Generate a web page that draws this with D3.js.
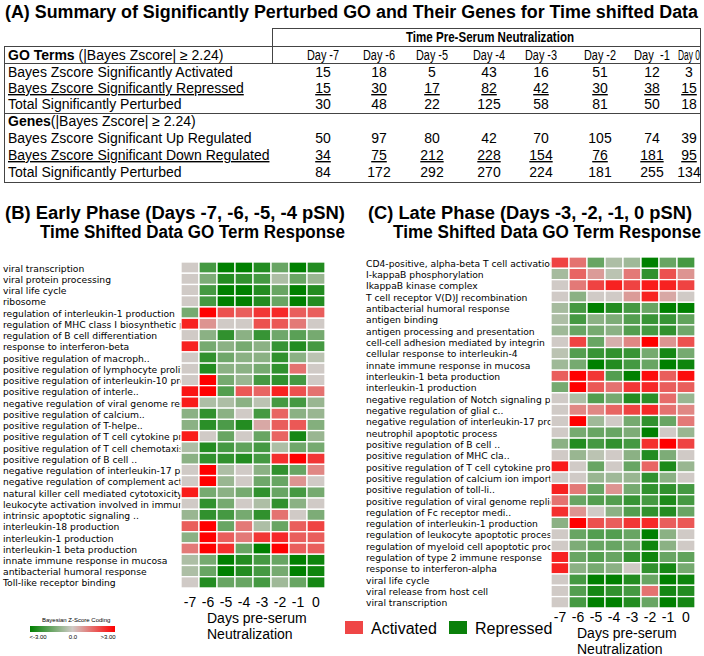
<!DOCTYPE html>
<html>
<head>
<meta charset="utf-8">
<script src="https://cdn.jsdelivr.net/npm/d3@7"></script>
<style>
body { margin: 0; background: #fff; }
text { fill: #000; }
.tbl { font-family: "Liberation Sans", Arial, sans-serif; font-size: 14px; }
.ttl { font-family: "Liberation Sans", Arial, sans-serif; font-weight: bold; }
.term { font-family: "DejaVu Sans", Verdana, sans-serif; font-size: 9.2px; }
.ax { font-family: "Liberation Sans", Arial, sans-serif; }
</style>
</head>
<body>
<div id="chart"></div>
<script>
// ---- table (A) ----
var days = ["Day -7", "Day -6", "Day -5", "Day -4", "Day -3", "Day -2", "Day  -1", "Day 0"];
var goActivated = [15, 18, 5, 43, 16, 51, 12, 3];
var goRepressed = [15, 30, 17, 82, 42, 30, 38, 15];
var goTotal = [30, 48, 22, 125, 58, 81, 50, 18];
var geneUp = [50, 97, 80, 42, 70, 105, 74, 39];
var geneDown = [34, 75, 212, 228, 154, 76, 181, 95];
var geneTotal = [84, 172, 292, 270, 224, 181, 255, 134];

// ---- heatmaps (B), (C) ----
var dayTicks = ["-7", "-6", "-5", "-4", "-3", "-2", "-1", "0"];

var earlyTerms = [
  "viral transcription", "viral protein processing", "viral life cycle", "ribosome",
  "regulation of interleukin-1 production", "regulation of MHC class I biosynthetic process",
  "regulation of B cell differentiation", "response to interferon-beta",
  "positive regulation of macroph..", "positive regulation of lymphocyte proliferation",
  "positive regulation of interleukin-10 production", "positive regulation of interle..",
  "negative regulation of viral genome replication", "positive regulation of calcium..",
  "positive regulation of T-helpe..", "positive regulation of T cell cytokine production",
  "positive regulation of T cell chemotaxis", "positive regulation of B cell ..",
  "negative regulation of interleukin-17 production", "negative regulation of complement activation",
  "natural killer cell mediated cytotoxicity", "leukocyte activation involved in immune response",
  "intrinsic apoptotic signaling ..", "interleukin-18 production", "interleukin-1 production",
  "interleukin-1 beta production", "innate immune response in mucosa",
  "antibacterial humoral response", "Toll-like receptor binding"
];
var earlyZ = [
  [0, -2, -3, -3, -2.5, -1.5, -3, -2.5],
  [0, -1.2, -2.5, -2.3, -2, -0.5, -1.5, -0.8],
  [0, -2, -3, -3, -2.5, -1.5, -3, -2.5],
  [0, -2, -3, -3, -2.5, -1.5, -3, -2.5],
  [-1.3, 3, 1.8, 1.6, 2.2, 2.4, 1.6, 1.6],
  [2.5, 0.8, 0, 0, 1.8, 1.7, 1.2, 0],
  [0, -1, -2.3, -1, -2.2, -1.4, -1.7, -1.3],
  [2.5, -1.3, -1, -1.3, -1, -2.2, -2.5, -2],
  [0, -2.3, -1.4, -1, -1, -2.3, -1, -0.3],
  [0, -2.5, -1, -1, -1.3, -2.3, 1.3, 0],
  [0, 3, -1.3, -0.8, -2, -2.3, -2, 0],
  [2.7, 3, -1.8, 1.7, 1.5, 2.5, 1.8, 1.3],
  [2.6, -0.5, -0.5, -1, -0.3, -2, -2, -0.8],
  [-1, -2.3, -1, 0, -2, 1.5, -1, -0.8],
  [-1, -2.4, -1.9, -2.5, 0.5, 1.6, 1.7, -1.1],
  [2.6, 0, -1.5, 0, -1.5, 1.5, -2.7, -0.8],
  [-0.5, -2.5, -2, -1.6, -2, -0.5, -1.4, -1.3],
  [-1, -2.3, -2.3, -2.5, -2, 2.3, 3, 2.2],
  [0, 3, -0.5, 0, -1, -2.3, -1.5, 1],
  [0, 3, -0.8, 0, -1.4, -1.5, 0.8, 0],
  [2.6, -1.3, -1, -1.3, -2.3, -1.5, -2, -1.3],
  [0, -2.3, -1.3, 0, -0.5, -2.3, -1, 0],
  [-0.8, -2.3, -2, -1.3, -2.3, 1.3, 0, -1.2],
  [1.6, 3, -1.5, 1.2, -0.5, -1.5, 1.6, 2],
  [-1, 3, 1.6, 1.2, 2.2, 2.4, 1.6, 1.6],
  [1.2, 3, 2.3, -1.5, -3, 3, 1.6, 1.6],
  [-0.5, -1.3, -3, -2.5, -2, -1.5, -3, -2.8],
  [-0.5, -1.5, -3, -2.5, -2, -1.3, -3, -2.8],
  [0, -2.5, -1.5, -1.5, -2, -0.7, -1.5, -2.7]
];

var lateTerms = [
  "CD4-positive, alpha-beta T cell activation", "I-kappaB phosphorylation", "IkappaB kinase complex",
  "T cell receptor V(D)J recombination", "antibacterial humoral response", "antigen binding",
  "antigen processing and presentation", "cell-cell adhesion mediated by integrin",
  "cellular response to interleukin-4", "innate immune response in mucosa",
  "interleukin-1 beta production", "interleukin-1 production",
  "negative regulation of Notch signaling pathway", "negative regulation of glial c..",
  "negative regulation of interleukin-17 production", "neutrophil apoptotic process",
  "positive regulation of B cell ..", "positive regulation of MHC cla..",
  "positive regulation of T cell cytokine production", "positive regulation of calcium ion import",
  "positive regulation of toll-li..", "positive regulation of viral genome replication",
  "regulation of Fc receptor medi..", "regulation of interleukin-1 production",
  "regulation of leukocyte apoptotic process", "regulation of myeloid cell apoptotic process",
  "regulation of type 2 immune response", "response to interferon-alpha", "viral life cycle",
  "viral release from host cell", "viral transcription"
];
var lateZ = [
  [2, 1.3, -1.5, -0.5, -0.7, -3, -1.5, -2],
  [-0.6, 1.5, 0.7, -0.3, 1.2, -2.3, 1.8, 0.8],
  [0, 1.2, 2, 2.5, 2, 2.6, 2.5, 2],
  [0, -1, 0, 0, 0.7, 2.5, 0.5, 0],
  [-0.6, -2, -3, -2.5, -2, -1.5, -3, -3],
  [-0.5, -2, -1, -1.2, -1.8, -2.2, -2.2, -1.6],
  [-0.7, -1.5, -1.3, -1, -1.8, -2, -2.3, -1.4],
  [0, 2, -1.5, 0.4, 1, 3, 0.8, 1.8],
  [-0.3, -1.8, -2.2, -2.3, -2.2, -1.3, -2.7, -1.3],
  [-0.7, -1.3, -3, -2.5, -2, -1.5, -3, -2.8],
  [1.6, 3, 2.2, -1.8, -3, 2.8, 1.6, 2.8],
  [-1.3, 3, 1.7, 1.3, 2.2, 2.4, 1.6, 1.6],
  [0, -0.5, -1.8, -1.3, -2.5, -2.4, 1.4, -0.8],
  [0, 1, 1, 1.5, 2, 2.4, 1.3, 1],
  [0, 3, -0.7, 0, -1.3, -2.3, -1.5, 1.2],
  [0, -1.3, -1.5, -1.5, -1.2, -3, 0, -0.8],
  [-1, -2.5, -2, -2.3, -2, 2.3, 3, 2],
  [0, -0.8, -0.3, 0, -1, -2.5, -1.2, 0],
  [2.6, 0, -1.5, 0, -1.5, 1.5, -2.6, -0.8],
  [0, 0, -0.8, -0.7, -0.8, -2.3, -1, 0],
  [2.5, 1.2, -1.5, 0.8, -1.3, -2.3, -2.3, -2],
  [1.3, -1.5, -1.8, -1.8, -2.2, -2, -2.6, -2],
  [2.3, 0.8, 0, -1, -1.8, -2.3, -2.5, -1.5],
  [-1, 3, 1.8, 1.6, 2.2, 2.4, 1.6, 1.7],
  [0, -1.5, -1.8, -1.8, -1.5, -3, -1, 0],
  [0, -1.2, -1.5, -1.5, -1.3, -2.8, -1, 0],
  [2.5, -1.5, -1.8, -1.5, -2.3, -2.8, -1.5, -1.6],
  [2.5, -1, -1.3, -1, 0, -2.3, -2.7, -1.3],
  [0, -2, -3, -3, -2.5, -1.5, -3, -2.8],
  [0, -1.8, -2.7, -2.3, -2, 1.3, -2.7, -2.5],
  [0, -2, -3, -3, -2.5, -1.5, -3, -2.7]
];

var W = 704, H = 656;
var svg = d3.select("#chart").append("svg").attr("width", W).attr("height", H);

var color = d3.scaleLinear().domain([-3, 0, 3]).range(["#008000", "#d0cac6", "#ff0000"]).clamp(true);

// ---------- (A) table ----------
svg.append("text").attr("class", "ttl").attr("x", 5).attr("y", 18)
  .style("font-size", "18px").attr("textLength", 693).attr("lengthAdjust", "spacingAndGlyphs")
  .text("(A) Summary of Significantly Perturbed GO and Their Genes for Time shifted Data");

var colX = d3.scaleOrdinal().domain(d3.range(8)).range([323, 379, 432, 489, 541, 600, 652, 689]);
var tbl = svg.append("g").attr("class", "tbl");
var lineC = "#444";
function hline(y, x0, x1) {
  tbl.append("line").attr("x1", x0).attr("x2", x1).attr("y1", y).attr("y2", y)
    .attr("stroke", lineC).attr("stroke-width", 1);
}
function vline(x, y0, y1) {
  tbl.append("line").attr("x1", x).attr("x2", x).attr("y1", y0).attr("y2", y1)
    .attr("stroke", lineC).attr("stroke-width", 1);
}
hline(28.5, 272, 700); hline(46.5, 4, 700); hline(63.5, 4, 700); hline(113.5, 4, 700); hline(182.5, 4, 700);
vline(272.5, 28, 63); vline(4.5, 46, 183); vline(700.5, 28, 183);

tbl.append("text").attr("x", 406).attr("y", 42)
  .attr("textLength", 168).attr("lengthAdjust", "spacingAndGlyphs")
  .style("font-weight", "bold").text("Time Pre-Serum Neutralization");

var h1 = tbl.append("text").attr("x", 8).attr("y", 60);
h1.append("tspan").style("font-weight", "bold").text("GO Terms");
h1.append("tspan").text(" (|Bayes Zscore| \u2265 2.24)");
tbl.selectAll(".day").data(days).enter().append("text")
  .attr("x", function(d, i) { return colX(i) - (i === 6 ? 18 : i === 7 ? 11 : 16); }).attr("y", 60)
  .attr("textLength", function(d, i) { return i === 6 ? 36 : i === 7 ? 22 : 32; })
  .attr("lengthAdjust", "spacingAndGlyphs")
  .style("white-space", "pre").text(function(d) { return d; });

var h2 = tbl.append("text").attr("x", 8).attr("y", 126);
h2.append("tspan").style("font-weight", "bold").text("Genes");
h2.append("tspan").text("(|Bayes Zscore|  \u2265 2.24)");

var tableRows = [
  {label: "Bayes Zscore Significantly Activated", vals: goActivated, y: 77, u: false},
  {label: "Bayes Zscore Significantly Repressed", vals: goRepressed, y: 93, u: true},
  {label: "Total Significantly Perturbed", vals: goTotal, y: 109, u: false},
  {label: "Bayes Zscore Significant Up Regulated", vals: geneUp, y: 143, u: false},
  {label: "Bayes Zscore Significant Down Regulated", vals: geneDown, y: 160, u: true},
  {label: "Total Significantly Perturbed", vals: geneTotal, y: 177, u: false}
];
tableRows.forEach(function(r) {
  tbl.append("text").attr("x", 8).attr("y", r.y)
    .style("text-decoration", r.u ? "underline" : null).text(r.label);
  tbl.selectAll(null).data(r.vals).enter().append("text")
    .attr("x", function(d, i) { return colX(i); }).attr("y", r.y)
    .attr("text-anchor", "middle").style("text-decoration", r.u ? "underline" : null)
    .text(function(d) { return d; });
});

// ---------- panel titles ----------
function title(x, y, len, s) {
  svg.append("text").attr("class", "ttl").attr("x", x).attr("y", y).style("font-size", "18px")
    .attr("textLength", len).attr("lengthAdjust", "spacingAndGlyphs").text(s);
}
title(5, 219, 340, "(B) Early Phase (Days -7, -6, -5, -4 pSN)");
title(40, 238, 305, "Time Shifted Data GO Term Response");
title(368, 219, 324, "(C) Late Phase (Days -3, -2, -1, 0 pSN)");
title(393, 238, 308, "Time Shifted Data GO Term Response");

// ---------- heatmaps ----------
function heatmap(id, terms, z, left, top, rowH, labelX, tickY) {
  var x = d3.scaleBand().domain(dayTicks).range([left, left + 144]);
  var y = d3.scaleBand().domain(terms).range([top, top + rowH * terms.length]);

  svg.append("clipPath").attr("id", id).append("rect")
    .attr("x", 0).attr("y", 0).attr("width", left).attr("height", H);

  svg.append("g").attr("class", "term").attr("clip-path", "url(#" + id + ")")
    .selectAll("text").data(terms).enter().append("text")
    .attr("x", labelX).attr("y", function(d) { return y(d) + y.bandwidth() / 2; })
    .attr("dy", "0.45em").text(function(d) { return d; });

  var cells = [];
  z.forEach(function(row, i) {
    row.forEach(function(v, j) { cells.push({t: terms[i], d: dayTicks[j], v: v}); });
  });
  svg.append("g").selectAll("rect").data(cells).enter().append("rect")
    .attr("x", function(d) { return x(d.d); }).attr("y", function(d) { return y(d.t); })
    .attr("width", x.bandwidth()).attr("height", y.bandwidth())
    .attr("fill", function(d) { return color(d.v); })
    .attr("stroke", "#fff").attr("stroke-width", 1.3);

  var ax = svg.append("g").attr("class", "ax").attr("transform", "translate(0," + tickY + ")")
    .call(d3.axisBottom(x).tickSize(0).tickPadding(0));
  ax.select(".domain").remove();
  ax.selectAll("text").style("font-size", "14px").attr("font-family", null).attr("dy", "0.3em");

  var g = svg.append("g").attr("class", "ax").style("font-size", "14px");
  g.append("text").attr("x", left + 26).attr("y", tickY + 20).text("Days pre-serum");
  g.append("text").attr("x", left + 26).attr("y", tickY + 36).text("Neutralization");
}

heatmap("clipB", earlyTerms, earlyZ, 181, 262, 11.24, 3, 603);
heatmap("clipC", lateTerms, lateZ, 551, 257, 11.32, 366, 618);

// ---------- legends ----------
var defs = svg.append("defs");
var grad = defs.append("linearGradient").attr("id", "zgrad");
grad.selectAll("stop").data([-3, 0, 3]).enter().append("stop")
  .attr("offset", function(d) { return ((d + 3) / 6 * 100) + "%"; })
  .attr("stop-color", function(d) { return color(d); });

var lg = svg.append("g").attr("class", "ax").style("font-size", "6px");
lg.append("text").attr("x", 42).attr("y", 622).text("Bayesian Z-Score Coding");
lg.append("rect").attr("x", 30).attr("y", 626).attr("width", 85).attr("height", 6).attr("fill", "url(#zgrad)");
var legTicks = ["<-3.00", "0.0", ">3.00"];
var lx = d3.scalePoint().domain(legTicks).range([38, 108]);
lg.selectAll(".lt").data(legTicks).enter().append("text")
  .attr("x", function(d) { return lx(d); }).attr("y", 639).attr("text-anchor", "middle").text(function(d) { return d; });

var cats = [{name: "Activated", v: 2}, {name: "Repressed", v: -3}];
var cx = d3.scaleOrdinal().domain(["Activated", "Repressed"]).range([345, 449]);
var cl = svg.append("g").attr("class", "ax").style("font-size", "16px");
cl.selectAll("rect").data(cats).enter().append("rect")
  .attr("x", function(d) { return cx(d.name); }).attr("y", 621).attr("width", 18).attr("height", 13)
  .attr("fill", function(d) { return d.v > 0 ? "#ef4646" : "#0a800a"; });
cl.selectAll("text").data(cats).enter().append("text")
  .attr("x", function(d) { return cx(d.name) + 26; }).attr("y", 634).text(function(d) { return d.name; });
</script>
</body>
</html>
